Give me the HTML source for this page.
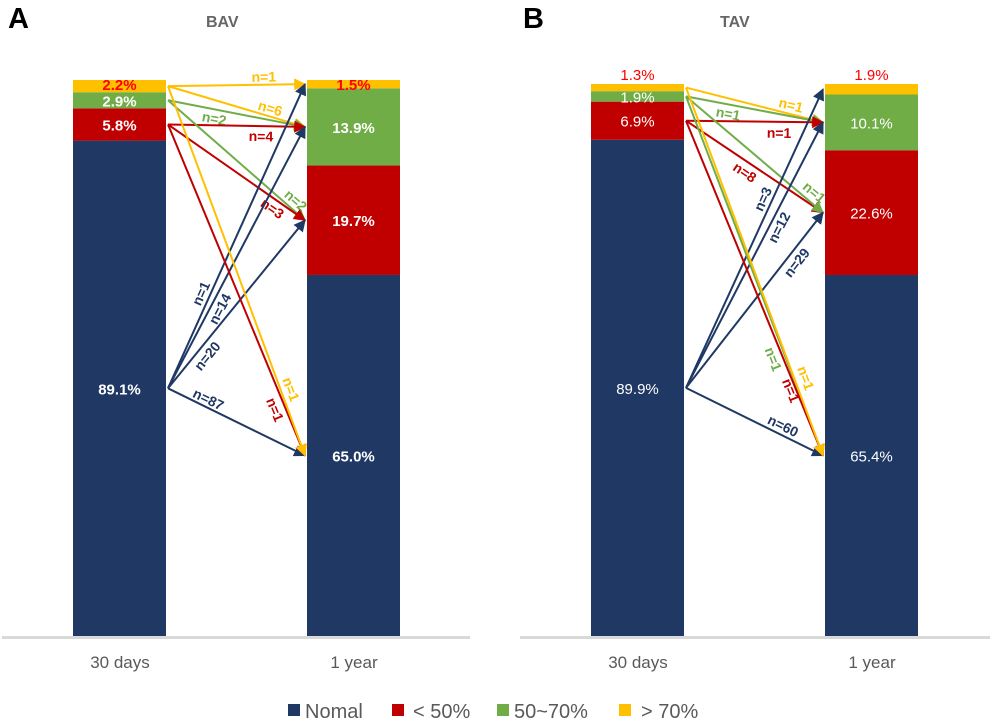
<!DOCTYPE html>
<html><head><meta charset="utf-8"><style>
body{margin:0;background:#fff;}
svg{display:block;font-family:"Liberation Sans",Arial,sans-serif;}
</style></head><body>
<svg id="chart" width="992" height="721" viewBox="0 0 992 721" xmlns="http://www.w3.org/2000/svg">
<defs>
<marker id="m0" viewBox="0 0 10 10" refX="9" refY="5" markerWidth="6" markerHeight="6" orient="auto"><path d="M0,0L10,5L0,10z" fill="#1f3864"/></marker>
<marker id="m1" viewBox="0 0 10 10" refX="9" refY="5" markerWidth="6" markerHeight="6" orient="auto"><path d="M0,0L10,5L0,10z" fill="#c00000"/></marker>
<marker id="m2" viewBox="0 0 10 10" refX="9" refY="5" markerWidth="6" markerHeight="6" orient="auto"><path d="M0,0L10,5L0,10z" fill="#70ad47"/></marker>
<marker id="m3" viewBox="0 0 10 10" refX="9" refY="5" markerWidth="6" markerHeight="6" orient="auto"><path d="M0,0L10,5L0,10z" fill="#ffc000"/></marker>
</defs>
<text x="8" y="28" font-size="29" font-weight="bold" fill="#000">A</text>
<text x="206" y="27" font-size="16" font-weight="bold" fill="#666">BAV</text>
<text x="523" y="28" font-size="29" font-weight="bold" fill="#000">B</text>
<text x="720" y="27" font-size="16" font-weight="bold" fill="#666">TAV</text>
<rect x="2" y="636" width="468" height="3" fill="#d9d9d9"/>
<rect x="520" y="636" width="470" height="3" fill="#d9d9d9"/>
<text x="120" y="668" font-size="17" fill="#595959" text-anchor="middle">30 days</text>
<text x="354" y="668" font-size="17" fill="#595959" text-anchor="middle">1 year</text>
<text x="638" y="668" font-size="17" fill="#595959" text-anchor="middle">30 days</text>
<text x="872" y="668" font-size="17" fill="#595959" text-anchor="middle">1 year</text>
<g>
<rect x="288" y="704" width="12" height="12" fill="#1f3864"/><text x="305" y="718" font-size="20" fill="#595959">Nomal</text>
<rect x="392" y="704" width="12" height="12" fill="#c00000"/><text x="413" y="718" font-size="20" fill="#595959">&lt; 50%</text>
<rect x="497" y="704" width="12" height="12" fill="#70ad47"/><text x="514" y="718" font-size="20" fill="#595959">50~70%</text>
<rect x="619" y="704" width="12" height="12" fill="#ffc000"/><text x="641" y="718" font-size="20" fill="#595959">&gt; 70%</text>
</g>
<g id="plot"></g>
</svg>
<script>
const categories = ["Nomal", "<50%", "50~70%", ">70%"];
const bavDay30 = [89.1, 5.8, 2.9, 2.2];
const bavYear1 = [65.0, 19.7, 13.9, 1.5];
const tavDay30 = [89.9, 6.9, 1.9, 1.3];
const tavYear1 = [65.4, 22.6, 10.1, 1.9];
// flows: [from category, to category, n]
const bavFlows = [[3,3,1],[3,2,6],[2,2,2],[1,2,4],[2,1,2],[1,1,3],[0,3,1],[0,2,14],[0,1,20],[0,0,87],[1,0,1],[3,0,1]];
const tavFlows = [[3,2,1],[2,2,1],[1,2,1],[1,1,8],[2,1,1],[0,3,3],[0,2,12],[0,1,29],[0,0,60],[2,0,1],[1,0,1],[3,0,1]];
const colors = ["#1f3864","#c00000","#70ad47","#ffc000"];
const labelColors = ["#fff","#fff","#fff","#ff0000"];
// label placement: [fraction along arrow, perpendicular offset]
const bavLabelPos = [[0.7,-8],[0.73,-8],[0.35,9],[0.68,10],[0.89,-9],[0.8,9],[0.3,-9],[0.32,9],[0.23,10],[0.27,-8],[0.85,10],[0.83,-10]];
const tavLabelPos = [[0.75,-9],[0.32,9],[0.68,11],[0.47,10],[0.89,-10],[0.62,-9],[0.62,9],[0.75,10],[0.68,-9],[0.72,12],[0.8,5],[0.8,-11]];

const NS="http://www.w3.org/2000/svg";
const plot=document.getElementById('plot');
function mk(tag,attrs,parent){const e=document.createElementNS(NS,tag);for(const k in attrs)e.setAttribute(k,attrs[k]);(parent||plot).appendChild(e);return e;}

function drawPanel(p,d30,y1,flows,lpos,leftX,rightX,topY,baseY,bold){
  const barW=93;
  function bar(vals,x,key){
    const segs=[];let y=baseY;
    const total=vals.reduce((a,b)=>a+b,0);
    const scale=(baseY-topY)/total;
    vals.forEach((v,i)=>{
      const h=v*scale;y-=h;
      const r=mk('rect',{x:x,y:y,width:barW,height:h,fill:colors[i]});
      
      
      segs.push([y,y+h]);
    });
    vals.forEach((v,i)=>{
      const [a,b]=segs[i];
      let ty=(a+b)/2+6; if(i===3) ty=bold?a+10:a-4;
      const t=mk('text',{x:x+barW/2,y:ty,'font-size':15,'font-weight':bold?'bold':'normal','text-anchor':'middle',fill:labelColors[i]});
      t.textContent=v.toFixed(1)+'%';
      
      
    });
    return segs;
  }
  const s0=bar(d30,leftX,'30days'), s1=bar(y1,rightX,'1year');
  flows.forEach((f,k)=>{
    const [from,to,n]=f;
    const x1=leftX+barW+2, yA=(s0[from][0]+s0[from][1])/2;
    const x2=rightX-2, yB=(s1[to][0]+s1[to][1])/2;
    const l=mk('line',{x1:x1,y1:yA,x2:x2,y2:yB,stroke:colors[from],'stroke-width':2,'marker-end':'url(#m'+from+')'});
    
    
    const dx=x2-x1,dy=yB-yA,len=Math.hypot(dx,dy);
    const [t,off]=lpos[k];
    const lx=x1+dx*t+(-dy/len)*off, ly=yA+dy*t+(dx/len)*off;
    const ang=Math.atan2(dy,dx)*180/Math.PI;
    const tx=mk('text',{x:lx,y:ly+5,'font-size':14,'font-weight':'bold','text-anchor':'middle',fill:colors[from],transform:'rotate('+ang+' '+lx+' '+ly+')'});
    tx.textContent='n='+n;
    
    
  });
}
drawPanel('bav',bavDay30,bavYear1,bavFlows,bavLabelPos,73,307,80,636,true);
drawPanel('tav',tavDay30,tavYear1,tavFlows,tavLabelPos,591,825,84,636,false);
</script>
</body></html>
